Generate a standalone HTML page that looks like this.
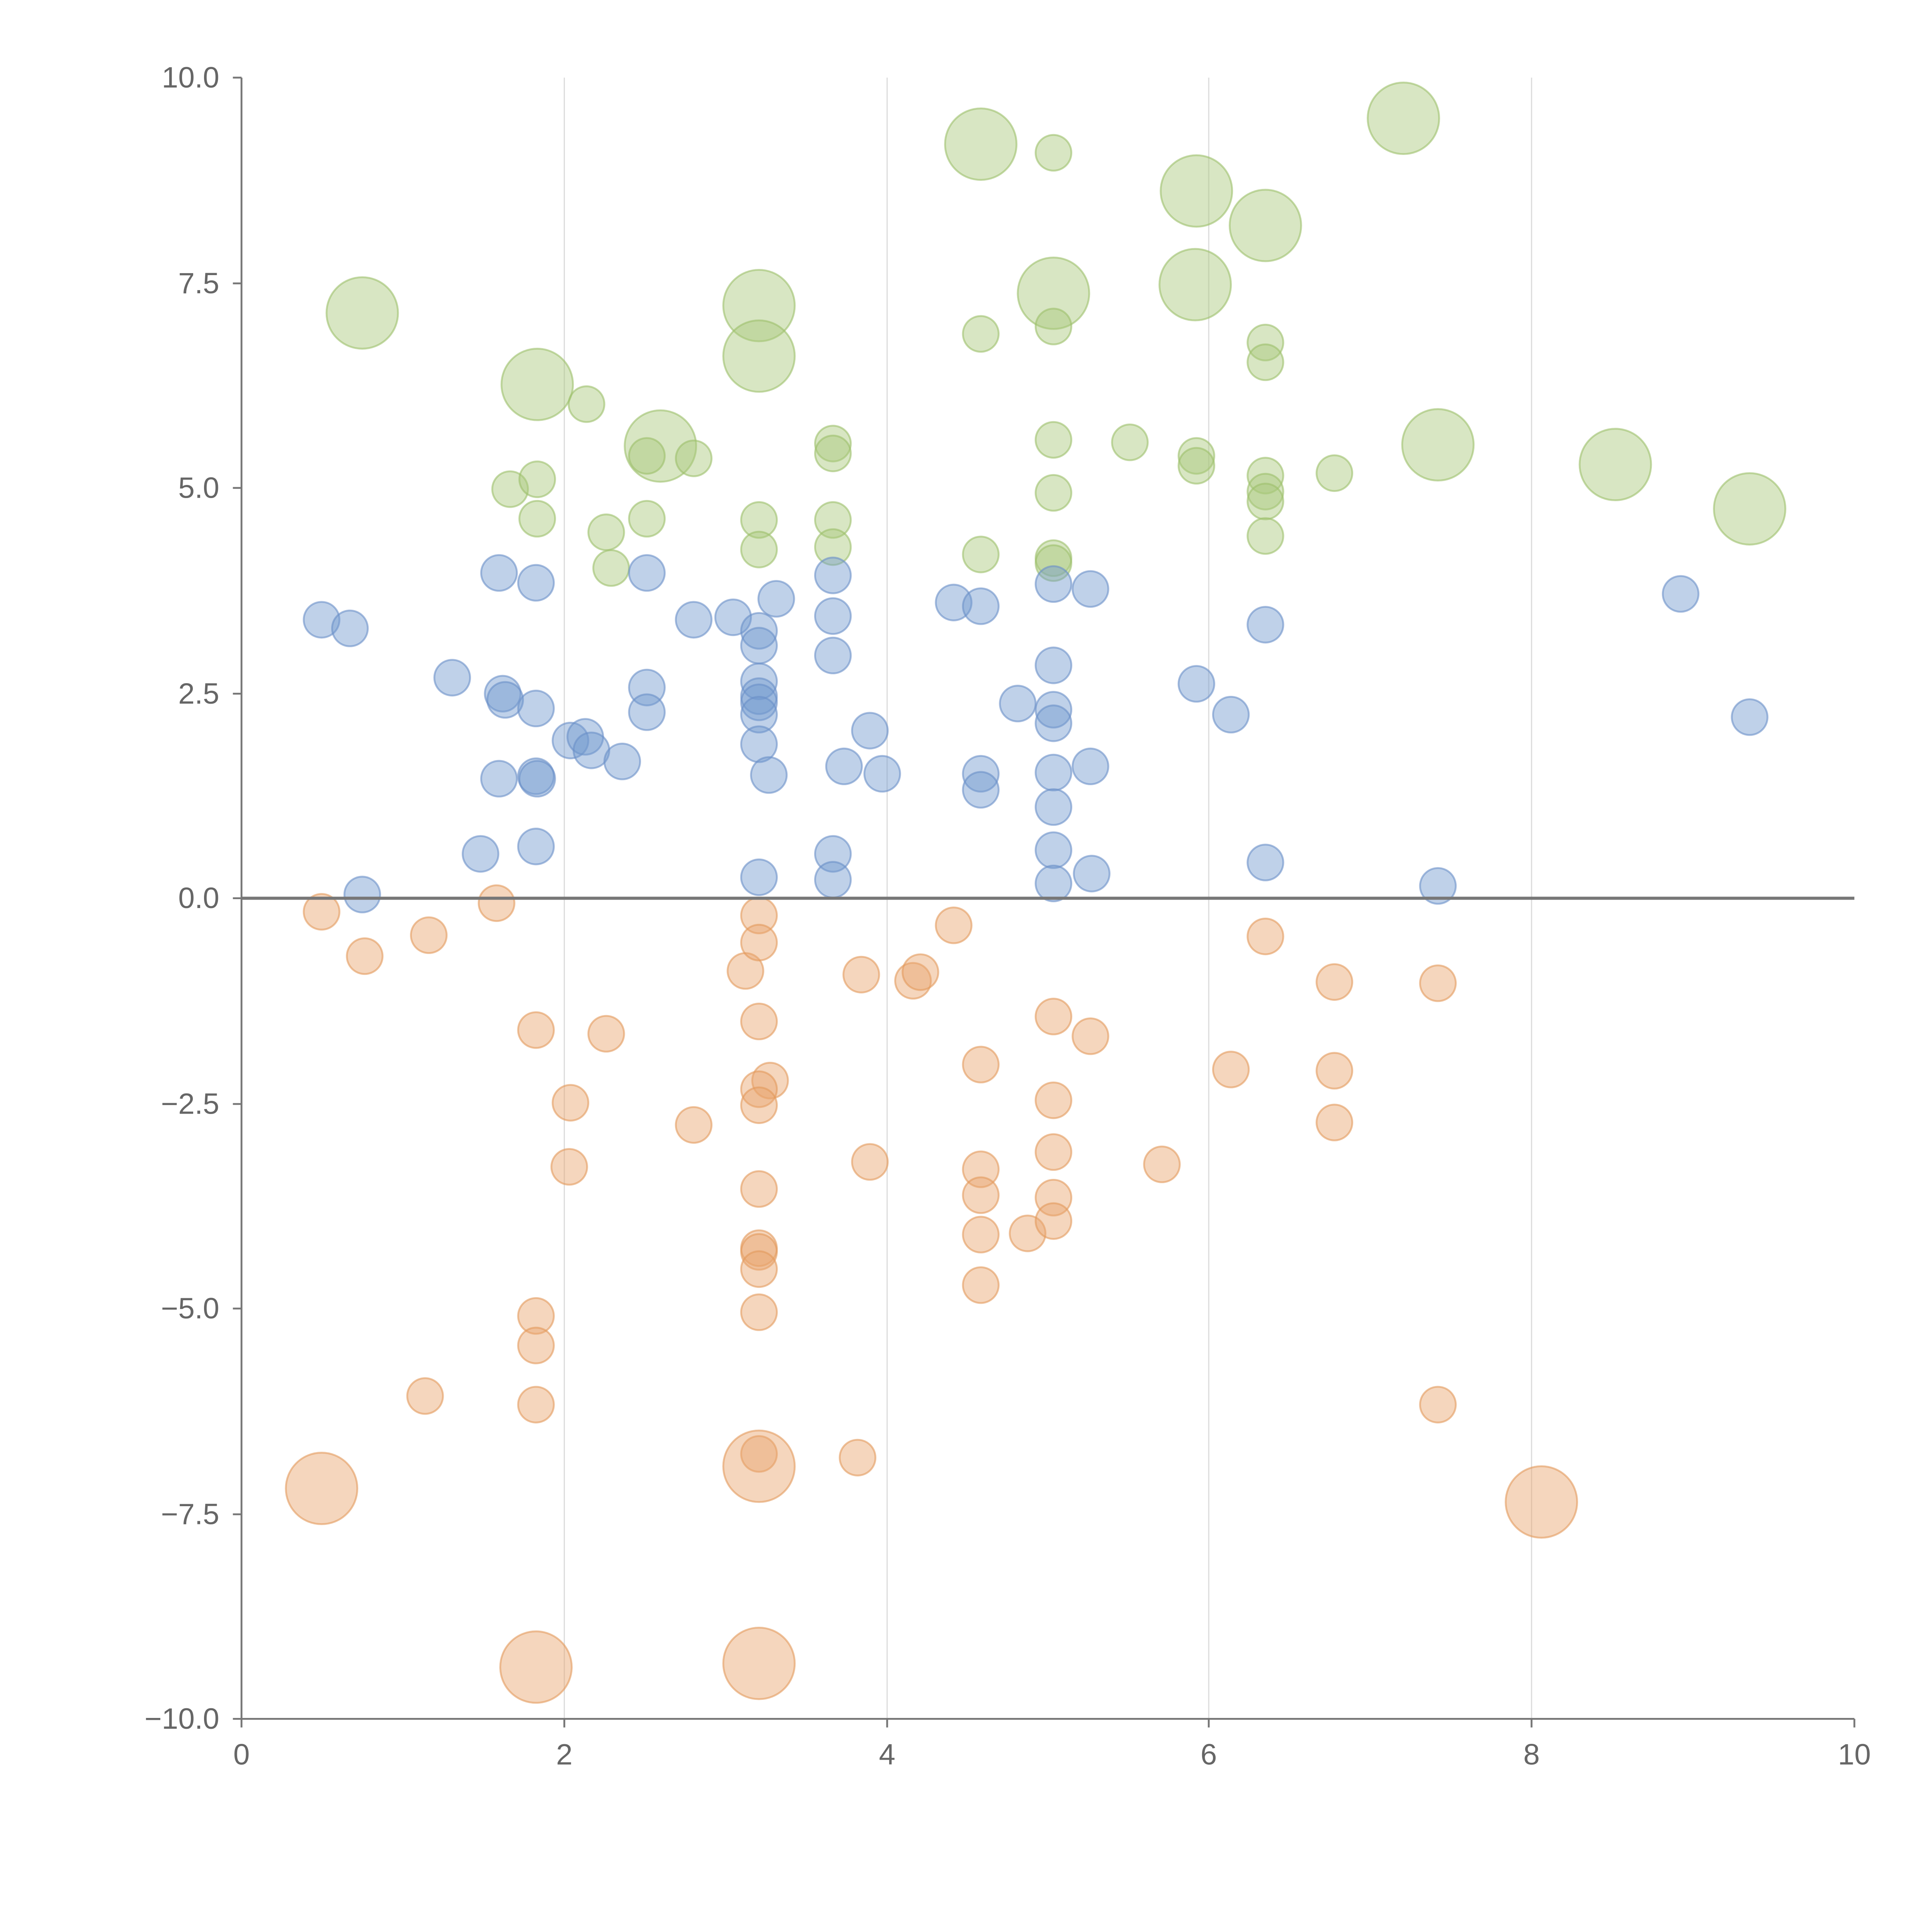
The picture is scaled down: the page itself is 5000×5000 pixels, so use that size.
<!DOCTYPE html>
<html><head><meta charset="utf-8"><style>html,body{margin:0;padding:0;background:#fff}svg{display:block}</style></head>
<body>
<svg width="5000" height="5000" viewBox="0 0 1568 1568" xmlns="http://www.w3.org/2000/svg" font-family="Liberation Sans, sans-serif">
<rect width="1568" height="1568" fill="#fff"/>
<g stroke="#dddddd" stroke-width="1">
<line x1="458" y1="63" x2="458" y2="1395"/><line x1="720" y1="63" x2="720" y2="1395"/>
<line x1="981" y1="63" x2="981" y2="1395"/><line x1="1243" y1="63" x2="1243" y2="1395"/>
</g>
<g fill="#a8c879" fill-opacity="0.45" stroke="#9cbf6a" stroke-opacity="0.6" stroke-width="1.5">
<circle cx="294" cy="254" r="29"/><circle cx="436" cy="312" r="29"/><circle cx="476" cy="328" r="14.5"/><circle cx="414" cy="397" r="14.5"/><circle cx="436" cy="389" r="14.5"/><circle cx="436" cy="421" r="14.5"/><circle cx="492" cy="432" r="14.5"/><circle cx="496" cy="461" r="14.5"/><circle cx="536" cy="362" r="29"/><circle cx="525" cy="370" r="14.5"/><circle cx="563" cy="372" r="14.5"/><circle cx="525" cy="421" r="14.5"/><circle cx="616" cy="248" r="29"/><circle cx="616" cy="289" r="29"/><circle cx="616" cy="422" r="14.5"/><circle cx="616" cy="446" r="14.5"/><circle cx="676" cy="360" r="14.5"/><circle cx="676" cy="368" r="14.5"/><circle cx="676" cy="422" r="14.5"/><circle cx="676" cy="444" r="14.5"/><circle cx="796" cy="117" r="29"/><circle cx="855" cy="124" r="14.5"/><circle cx="796" cy="271" r="14.5"/><circle cx="855" cy="238" r="29"/><circle cx="855" cy="265" r="14.5"/><circle cx="855" cy="357" r="14.5"/><circle cx="855" cy="400" r="14.5"/><circle cx="855" cy="453" r="14.5"/><circle cx="855" cy="457" r="14.5"/><circle cx="796" cy="450" r="14.5"/><circle cx="917" cy="359" r="14.5"/><circle cx="971" cy="155" r="29"/><circle cx="970" cy="231" r="29"/><circle cx="971" cy="370" r="14.5"/><circle cx="971" cy="378" r="14.5"/><circle cx="1027" cy="183" r="29"/><circle cx="1027" cy="278" r="14.5"/><circle cx="1027" cy="294" r="14.5"/><circle cx="1027" cy="386" r="14.5"/><circle cx="1027" cy="399" r="14.5"/><circle cx="1027" cy="407" r="14.5"/><circle cx="1027" cy="435" r="14.5"/><circle cx="1083" cy="384" r="14.5"/><circle cx="1139" cy="96" r="29"/><circle cx="1167" cy="361" r="29"/><circle cx="1311" cy="377" r="29"/><circle cx="1420" cy="413" r="29"/>
</g>
<g fill="#7298cf" fill-opacity="0.45" stroke="#6a8fc8" stroke-opacity="0.6" stroke-width="1.5">
<circle cx="261" cy="503" r="14.5"/><circle cx="284" cy="510" r="14.5"/><circle cx="405" cy="465" r="14.5"/><circle cx="435" cy="473" r="14.5"/><circle cx="367" cy="550" r="14.5"/><circle cx="408" cy="563" r="14.5"/><circle cx="410" cy="568" r="14.5"/><circle cx="435" cy="575" r="14.5"/><circle cx="405" cy="632" r="14.5"/><circle cx="435" cy="630" r="14.5"/><circle cx="436" cy="632" r="14.5"/><circle cx="390" cy="693" r="14.5"/><circle cx="435" cy="687" r="14.5"/><circle cx="294" cy="726" r="14.5"/><circle cx="463" cy="601" r="14.5"/><circle cx="475" cy="598" r="14.5"/><circle cx="480" cy="609" r="14.5"/><circle cx="505" cy="618" r="14.5"/><circle cx="525" cy="465" r="14.5"/><circle cx="525" cy="558" r="14.5"/><circle cx="525" cy="578" r="14.5"/><circle cx="563" cy="503" r="14.5"/><circle cx="595" cy="501" r="14.5"/><circle cx="616" cy="512" r="14.5"/><circle cx="616" cy="524" r="14.5"/><circle cx="616" cy="553" r="14.5"/><circle cx="616" cy="565" r="14.5"/><circle cx="616" cy="570" r="14.5"/><circle cx="616" cy="580" r="14.5"/><circle cx="616" cy="604" r="14.5"/><circle cx="624" cy="629" r="14.5"/><circle cx="630" cy="486" r="14.5"/><circle cx="616" cy="712" r="14.5"/><circle cx="676" cy="467" r="14.5"/><circle cx="676" cy="500" r="14.5"/><circle cx="676" cy="532" r="14.5"/><circle cx="676" cy="693" r="14.5"/><circle cx="676" cy="714" r="14.5"/><circle cx="685" cy="622" r="14.5"/><circle cx="706" cy="593" r="14.5"/><circle cx="716" cy="628" r="14.5"/><circle cx="774" cy="489" r="14.5"/><circle cx="796" cy="492" r="14.5"/><circle cx="796" cy="628" r="14.5"/><circle cx="796" cy="641" r="14.5"/><circle cx="826" cy="571" r="14.5"/><circle cx="855" cy="474" r="14.5"/><circle cx="855" cy="540" r="14.5"/><circle cx="855" cy="576" r="14.5"/><circle cx="855" cy="587" r="14.5"/><circle cx="855" cy="627" r="14.5"/><circle cx="855" cy="655" r="14.5"/><circle cx="855" cy="690" r="14.5"/><circle cx="855" cy="717" r="14.5"/><circle cx="885" cy="478" r="14.5"/><circle cx="885" cy="622" r="14.5"/><circle cx="886" cy="709" r="14.5"/><circle cx="971" cy="555" r="14.5"/><circle cx="999" cy="580" r="14.5"/><circle cx="1027" cy="507" r="14.5"/><circle cx="1027" cy="700" r="14.5"/><circle cx="1167" cy="719" r="14.5"/><circle cx="1364" cy="482" r="14.5"/><circle cx="1420" cy="582" r="14.5"/>
</g>
<g fill="#e9a46d" fill-opacity="0.45" stroke="#e39a5c" stroke-opacity="0.6" stroke-width="1.5">
<circle cx="261" cy="740" r="14.5"/><circle cx="296" cy="776" r="14.5"/><circle cx="348" cy="759" r="14.5"/><circle cx="403" cy="733" r="14.5"/><circle cx="435" cy="836" r="14.5"/><circle cx="492" cy="839" r="14.5"/><circle cx="463" cy="895" r="14.5"/><circle cx="462" cy="947" r="14.5"/><circle cx="563" cy="913" r="14.5"/><circle cx="605" cy="788" r="14.5"/><circle cx="616" cy="743" r="14.5"/><circle cx="616" cy="765" r="14.5"/><circle cx="616" cy="829" r="14.5"/><circle cx="625" cy="877" r="14.5"/><circle cx="616" cy="884" r="14.5"/><circle cx="616" cy="897" r="14.5"/><circle cx="616" cy="965" r="14.5"/><circle cx="616" cy="1013" r="14.5"/><circle cx="616" cy="1016" r="14.5"/><circle cx="616" cy="1030" r="14.5"/><circle cx="616" cy="1065" r="14.5"/><circle cx="616" cy="1180" r="14.5"/><circle cx="699" cy="791" r="14.5"/><circle cx="741" cy="796" r="14.5"/><circle cx="747" cy="789" r="14.5"/><circle cx="774" cy="751" r="14.5"/><circle cx="706" cy="943" r="14.5"/><circle cx="696" cy="1183" r="14.5"/><circle cx="796" cy="864" r="14.5"/><circle cx="796" cy="949" r="14.5"/><circle cx="796" cy="970" r="14.5"/><circle cx="796" cy="1002" r="14.5"/><circle cx="796" cy="1043" r="14.5"/><circle cx="834" cy="1001" r="14.5"/><circle cx="855" cy="825" r="14.5"/><circle cx="855" cy="893" r="14.5"/><circle cx="855" cy="935" r="14.5"/><circle cx="855" cy="972" r="14.5"/><circle cx="855" cy="991" r="14.5"/><circle cx="885" cy="841" r="14.5"/><circle cx="943" cy="945" r="14.5"/><circle cx="999" cy="868" r="14.5"/><circle cx="1027" cy="760" r="14.5"/><circle cx="1083" cy="797" r="14.5"/><circle cx="1083" cy="869" r="14.5"/><circle cx="1083" cy="911" r="14.5"/><circle cx="1167" cy="798" r="14.5"/><circle cx="1167" cy="1140" r="14.5"/><circle cx="435" cy="1068" r="14.5"/><circle cx="435" cy="1092" r="14.5"/><circle cx="435" cy="1140" r="14.5"/><circle cx="345" cy="1133" r="14.5"/><circle cx="261" cy="1208" r="29"/><circle cx="616" cy="1190" r="29"/><circle cx="435" cy="1353" r="29"/><circle cx="616" cy="1350" r="29"/><circle cx="1251" cy="1219" r="29"/>
</g>
<line x1="196" y1="729" x2="1505" y2="729" stroke="#777" stroke-width="2.5"/>
<g stroke="#777" stroke-width="1.5">
<line x1="196" y1="63" x2="196" y2="1395"/><line x1="196" y1="1395" x2="1505" y2="1395"/>
<line x1="189" y1="63" x2="196" y2="63"/><line x1="189" y1="230" x2="196" y2="230"/><line x1="189" y1="396" x2="196" y2="396"/><line x1="189" y1="563" x2="196" y2="563"/><line x1="189" y1="729" x2="196" y2="729"/><line x1="189" y1="896" x2="196" y2="896"/><line x1="189" y1="1062" x2="196" y2="1062"/><line x1="189" y1="1229" x2="196" y2="1229"/><line x1="189" y1="1395" x2="196" y2="1395"/>
<line x1="196" y1="1395" x2="196" y2="1402"/><line x1="458" y1="1395" x2="458" y2="1402"/><line x1="720" y1="1395" x2="720" y2="1402"/><line x1="981" y1="1395" x2="981" y2="1402"/><line x1="1243" y1="1395" x2="1243" y2="1402"/><line x1="1505" y1="1395" x2="1505" y2="1402"/>
</g>
<g fill="#666" font-size="24" text-anchor="end">
<text x="178" y="71">10.0</text><text x="178" y="238">7.5</text><text x="178" y="404">5.0</text><text x="178" y="571">2.5</text><text x="178" y="737">0.0</text><text x="178" y="904">−2.5</text><text x="178" y="1070">−5.0</text><text x="178" y="1237">−7.5</text><text x="178" y="1403">−10.0</text>
</g>
<g fill="#666" font-size="24" text-anchor="middle">
<text x="196" y="1432">0</text><text x="458" y="1432">2</text><text x="720" y="1432">4</text><text x="981" y="1432">6</text><text x="1243" y="1432">8</text><text x="1505" y="1432">10</text>
</g>
</svg>
</body></html>
